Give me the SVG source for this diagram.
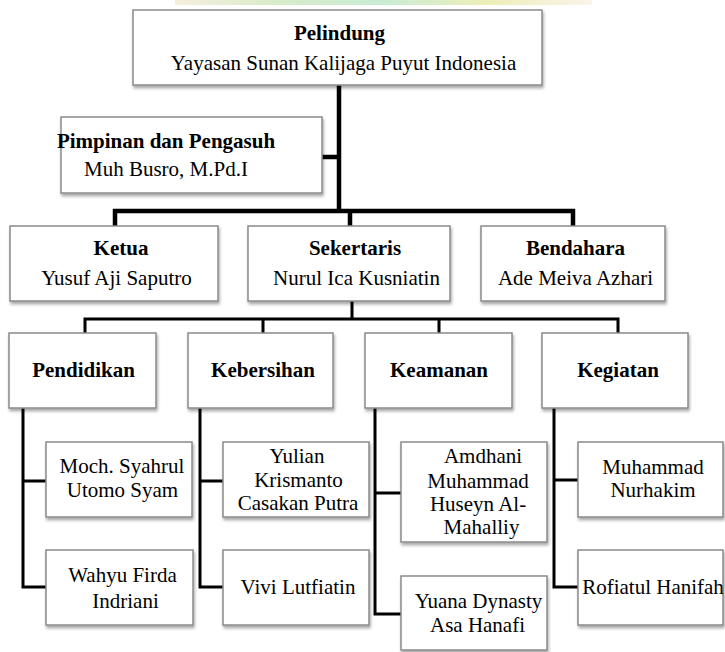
<svg xmlns="http://www.w3.org/2000/svg" width="725" height="652" viewBox="0 0 725 652">
<defs>
<filter id="sh" x="-10%" y="-10%" width="125%" height="135%">
<feDropShadow dx="1" dy="2.5" stdDeviation="1.6" flood-color="#000" flood-opacity="0.35"/>
</filter>
<linearGradient id="wm" x1="0" y1="0" x2="1" y2="0">
<stop offset="0" stop-color="#f4eedd"/>
<stop offset="0.25" stop-color="#d8ecc8"/>
<stop offset="0.5" stop-color="#c9ecd6"/>
<stop offset="0.75" stop-color="#eeeeb8"/>
<stop offset="1" stop-color="#f8f4ea"/>
</linearGradient>
</defs>
<style>
.box{fill:#fff;stroke:#8a8a8a;stroke-width:1.5;filter:url(#sh)}
text{font-family:"Liberation Serif","Times New Roman",serif;font-size:21px;fill:#000;text-anchor:middle}
.b{font-weight:bold}
.c1{stroke:#000;stroke-width:4.5;fill:none;stroke-linecap:square}
.c2{stroke:#000;stroke-width:3;fill:none;stroke-linecap:square}
</style>
<rect width="725" height="652" fill="#fff"/>
<rect x="175" y="0" width="417" height="5" fill="url(#wm)"/>

<g id="connectors">
<path class="c1" d="M339 86V211M323 157H339M115 211H573M115 211V225M350 211V225M573 211V225"/>
<path class="c2" d="M352 302V319M85 319H618M85 319V332M263 319V332M439 319V332M618 319V332"/>
<path class="c2" d="M23 409V587M23 481H45M23 587H45"/>
<path class="c2" d="M200 409V587M200 481H222M200 587H222"/>
<path class="c2" d="M375 409V614M375 493H400M375 614H400"/>
<path class="c2" d="M554 409V587M554 480H577M554 587H577"/>
</g>

<g id="pelindung"><rect class="box" x="133" y="10" width="409" height="75"/>
<text class="b" x="339.5" y="40">Pelindung</text>
<text x="343.5" y="70">Yayasan Sunan Kalijaga Puyut Indonesia</text></g>

<g id="pimpinan"><rect class="box" x="61" y="117" width="261" height="76"/>
<text class="b" x="166" y="148">Pimpinan dan Pengasuh</text>
<text x="166" y="176">Muh Busro, M.Pd.I</text></g>

<g id="ketua"><rect class="box" x="10" y="226" width="208" height="75"/>
<text class="b" x="121" y="255">Ketua</text>
<text x="116.5" y="285">Yusuf Aji Saputro</text></g>

<g id="sekertaris"><rect class="box" x="248" y="226" width="202" height="75"/>
<text class="b" x="355" y="255">Sekertaris</text>
<text x="356.5" y="285">Nurul Ica Kusniatin</text></g>

<g id="bendahara"><rect class="box" x="481" y="226" width="184" height="75"/>
<text class="b" x="575.5" y="255">Bendahara</text>
<text x="575.5" y="285">Ade Meiva Azhari</text></g>

<g id="pendidikan"><rect class="box" x="9" y="333" width="147" height="75"/>
<text class="b" x="83.5" y="377">Pendidikan</text></g>

<g id="kebersihan"><rect class="box" x="188" y="333" width="145" height="75"/>
<text class="b" x="263" y="377">Kebersihan</text></g>

<g id="keamanan"><rect class="box" x="365" y="333" width="147" height="75"/>
<text class="b" x="439" y="377">Keamanan</text></g>

<g id="kegiatan"><rect class="box" x="542" y="333" width="146" height="75"/>
<text class="b" x="618" y="377">Kegiatan</text></g>

<g id="moch"><rect class="box" x="46" y="442" width="146" height="75"/>
<text x="122" y="473">Moch. Syahrul</text>
<text x="122.5" y="497">Utomo Syam</text></g>

<g id="wahyu"><rect class="box" x="46" y="550" width="147" height="75"/>
<text x="122.5" y="582">Wahyu Firda</text>
<text x="125.5" y="608">Indriani</text></g>

<g id="yulian"><rect class="box" x="223" y="442" width="146" height="75"/>
<text x="297" y="463">Yulian</text>
<text x="298.5" y="487">Krismanto</text>
<text x="298" y="510">Casakan Putra</text></g>

<g id="vivi"><rect class="box" x="223" y="550" width="146" height="75"/>
<text x="298" y="594">Vivi Lutfiatin</text></g>

<g id="amdhani"><rect class="box" x="401" y="442" width="146" height="100"/>
<text x="483" y="463">Amdhani</text>
<text x="478" y="488">Muhammad</text>
<text x="478" y="511">Huseyn Al-</text>
<text x="481.5" y="534">Mahalliy</text></g>

<g id="yuana"><rect class="box" x="401" y="576" width="146" height="74"/>
<text x="478.5" y="608">Yuana Dynasty</text>
<text x="477.5" y="632">Asa Hanafi</text></g>

<g id="muhammad"><rect class="box" x="578" y="442" width="145" height="75"/>
<text x="653" y="474">Muhammad</text>
<text x="653" y="497">Nurhakim</text></g>

<g id="rofiatul"><rect class="box" x="578" y="550" width="145" height="75"/>
<text x="653" y="594">Rofiatul Hanifah</text></g>
</svg>
